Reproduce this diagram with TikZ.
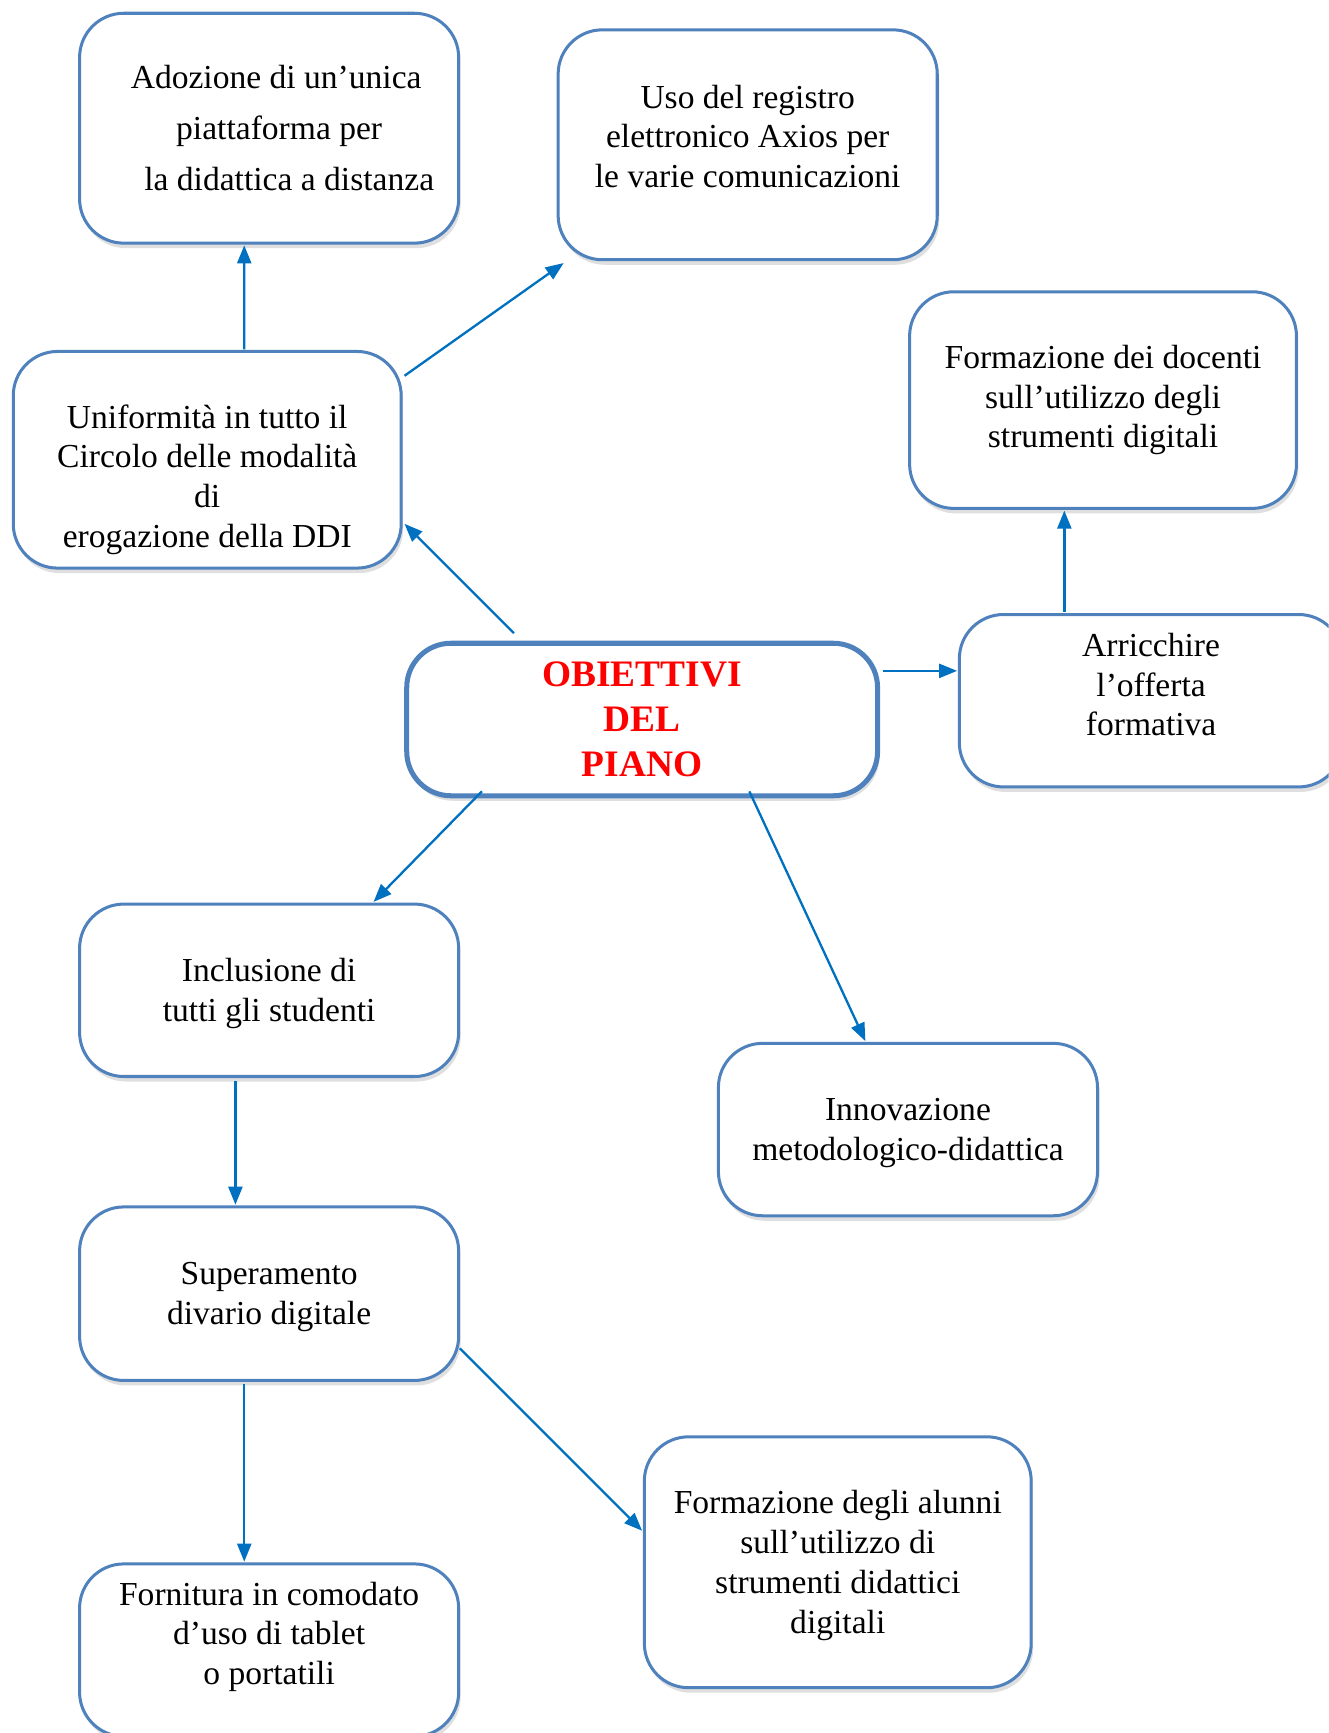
\documentclass[tikz,border=0pt]{standalone}
\usepackage{fontspec}
\setmainfont{Liberation Serif}
\usetikzlibrary{arrows.meta,shadows}

\definecolor{boxblue}{RGB}{79,129,189}
\definecolor{arrowblue}{RGB}{0,112,192}
\newcommand{\px}{0.55pt}
% text moved up (or down) inside its box
\newcommand{\lift}[2]{\raisebox{#1}[0pt][0pt]{\begin{tabular}{@{}c@{}}#2\end{tabular}}}

\begin{document}
\begin{tikzpicture}[x=\px,y=-\px]
  \tikzset{
    goal/.style={
      rectangle,
      rounded corners=22pt,
      draw=boxblue,
      line width=1.5pt,
      fill=white,
      drop shadow={opacity=0.25, shadow xshift=1pt, shadow yshift=-2.5pt},
      inner sep=0pt,
      outer sep=0pt,
      align=center,
      font=\fontsize{16.7}{19.8}\selectfont
    },
    link/.style={
      draw=arrowblue,
      line width=1.15pt,
      -{Triangle[length=9pt,width=7pt]}
    }
  }

  \useasboundingbox (0,0) rectangle (1202,1568);
  \clip (0,0) rectangle (1202,1568);

  \node[goal, minimum width=343*\px, minimum height=208*\px, font=\fontsize{16.7}{25.3}\selectfont] (ado) at (243.5,116)
    {\hspace*{7pt}Adozione di un’unica\\ \hspace*{10pt}piattaforma per\\ \hspace*{20pt}la didattica a distanza};
  \node[goal, minimum width=343*\px, minimum height=208*\px] (uso) at (676.5,131)
    {\lift{-1.9pt}{Uso del registro\\ elettronico Axios per\\ le varie comunicazioni}};
  \node[goal, minimum width=350*\px, minimum height=196*\px] (doc) at (998,362)
    {Formazione dei docenti\\ sull’utilizzo degli\\ strumenti digitali};
  \node[goal, minimum width=351*\px, minimum height=196*\px] (uni) at (187.5,416)
    {\lift{-14.3pt}{Uniformità in tutto il\\ Circolo delle modalità\\ di\\ erogazione della DDI}};
  \node[goal, minimum width=426*\px, minimum height=138*\px, line width=2.5pt,
        font=\bfseries\fontsize{18.6}{22.5}\selectfont, text=red] (obi) at (581,651)
    {OBIETTIVI\\ DEL\\ PIANO};
  \node[goal, minimum width=347*\px, minimum height=156*\px] (arr) at (1041.5,634)
    {\lift{1.9pt}{Arricchire\\ l’offerta\\ formativa}};
  \node[goal, minimum width=343*\px, minimum height=156*\px] (inc) at (243.5,896)
    {\lift{-5.8pt}{Inclusione di\\ tutti gli studenti}};
  \node[goal, minimum width=343*\px, minimum height=156*\px] (inn) at (821.5,1022)
    {\lift{-5.8pt}{Innovazione\\ metodologico-didattica}};
  \node[goal, minimum width=343*\px, minimum height=157*\px] (sup) at (243.5,1170.5)
    {\lift{-5.8pt}{Superamento\\ divario digitale}};
  \node[goal, minimum width=350*\px, minimum height=227*\px] (alu) at (758,1413.5)
    {\lift{-6pt}{Formazione degli alunni\\ sull’utilizzo di\\ strumenti didattici\\ digitali}};
  \node[goal, minimum width=343*\px, minimum height=156*\px] (for) at (243.5,1493)
    {\lift{2.2pt}{Fornitura in comodato\\ d’uso di tablet\\ o portatili}};

  % connectors
  \draw[link] ([shift={(33.5,-2)}]uni.north) -- ([shift={(-22.5,2)}]ado.south);
  \draw[link] ([shift={(3,22)}]uni.north east) -- ([shift={(5,3)}]uso.south west);
  \draw[link] ([shift={(97,-9)}]obi.north west) -- ([shift={(3,-40)}]uni.south east);
  \draw[link] ([shift={(5,25)}]obi.north east) -- ([shift={(-2,-27)}]arr.west);
  \draw[link] ([shift={(-78.5,-2)}]arr.north) -- ([shift={(-35,2)}]doc.south);
  \draw[link] ([shift={(68,-4)}]obi.south west) -- ([shift={(94.5,-2)}]inc.north);
  \draw[link] ([shift={(97,-4)}]obi.south) -- ([shift={(-38.5,-2)}]inn.north);
  \draw[link] ([shift={(-30.5,4)}]inc.south) -- ([shift={(-30.5,-2)}]sup.north);
  \draw[link] ([shift={(-22.5,3)}]sup.south) -- ([shift={(-22.5,-2)}]for.north);
  \draw[link] ([shift={(1,49.5)}]sup.east) -- ([shift={(-2,-28.5)}]alu.west);
\end{tikzpicture}
\end{document}
